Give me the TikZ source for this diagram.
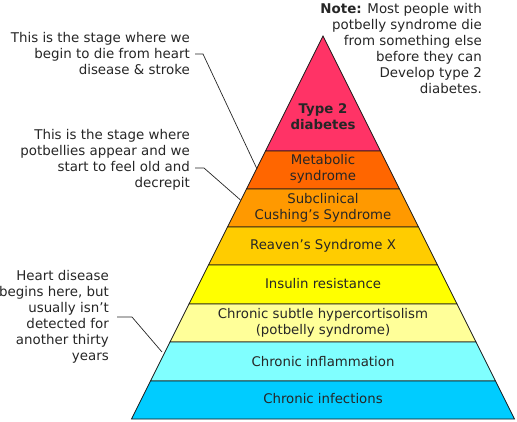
\documentclass[tikz,border=0pt]{standalone}
\usepackage{fontspec}
\setmainfont{DejaVu Sans}
\usetikzlibrary{calc}
\definecolor{txt}{HTML}{262626}
\definecolor{cA}{HTML}{FF3366}
\definecolor{cB}{HTML}{FF6600}
\definecolor{cC}{HTML}{FF9900}
\definecolor{cD}{HTML}{FFCC00}
\definecolor{cE}{HTML}{FFFF00}
\definecolor{cF}{HTML}{FFFF99}
\definecolor{cG}{HTML}{80FFFF}
\definecolor{cH}{HTML}{00CCFF}
\begin{document}
\begin{tikzpicture}[x=1pt,y=-1pt,
  lay/.style={draw=black!90, line width=0.8pt, line join=miter},
  lbl/.style={font=\fontsize{13.3}{16}\selectfont, text=txt, align=center, inner sep=0pt},
  ann/.style={font=\fontsize{13.4}{16}\selectfont, text=txt, align=right, inner sep=0pt},
  conn/.style={draw=txt, line width=0.7pt}]
\useasboundingbox (0,0) rectangle (517,421);
% layers
\filldraw[lay, fill=cA] (323,36) -- (380.5,151) -- (265.5,151) -- cycle;
\filldraw[lay, fill=cB] (265.5,151) -- (380.5,151) -- (399.5,189) -- (246.5,189) -- cycle;
\filldraw[lay, fill=cC] (246.5,189) -- (399.5,189) -- (418.5,227) -- (227.5,227) -- cycle;
\filldraw[lay, fill=cD] (227.5,227) -- (418.5,227) -- (437.5,265) -- (208.5,265) -- cycle;
\filldraw[lay, fill=cE] (208.5,265) -- (437.5,265) -- (457,304) -- (189,304) -- cycle;
\filldraw[lay, fill=cF] (189,304) -- (457,304) -- (476,342) -- (170,342) -- cycle;
\filldraw[lay, fill=cG] (170,342) -- (476,342) -- (495.5,381) -- (150.5,381) -- cycle;
\filldraw[lay, fill=cH] (150.5,381) -- (495.5,381) -- (514.5,419) -- (131.5,419) -- cycle;
% labels
\node[lbl, font=\fontsize{13.3}{16}\selectfont\bfseries] (t1) at (323,116.5) {Type 2\\diabetes};
\node[lbl] (t2) at (323,169) {Metabolic\\syndrome};
\node[lbl] (t3) at (323,208) {Subclinical\\Cushing’s Syndrome};
\node[lbl] (t4) at (323,246) {Reaven's Syndrome X};
\node[lbl] (t5) at (323,284) {Insulin resistance};
\node[lbl] (t6) at (323,323) {Chronic subtle hypercortisolism\\(potbelly syndrome)};
\node[lbl] (t7) at (323,362) {Chronic inflammation};
\node[lbl] (t8) at (323,399) {Chronic infections};
% annotations
\node[ann, anchor=east] (a1) at (190,54) {This is the stage where we\\begin to die from heart\\disease \& stroke};
\node[ann, anchor=east] (a2) at (190,160) {This is the stage where\\potbellies appear and we\\start to feel old and\\decrepit};
\node[ann, anchor=east] (a3) at (109,317) {Heart disease\\begins here, but\\usually isn’t\\detected for\\another thirty\\years};
\node[ann, anchor=east] (note) at (482,48.5) {\textbf{Note:} Most people with\\potbelly syndrome die\\from something else\\before they can\\Develop type 2\\diabetes.};
% connector ends
\coordinate (p1) at (257,169);
\coordinate (p2) at (240.5,200);
\coordinate (p3) at (162,352);
\draw[conn] ($(a1.east)+(5,0)$) -- ++(8,0) -- (p1);
\draw[conn] ($(a2.east)+(5,8)$) -- ++(9,0) -- (p2);
\draw[conn] ($(a3.east)+(8,0)$) -- ++(15,0) -- (p3);
\end{tikzpicture}
\end{document}
